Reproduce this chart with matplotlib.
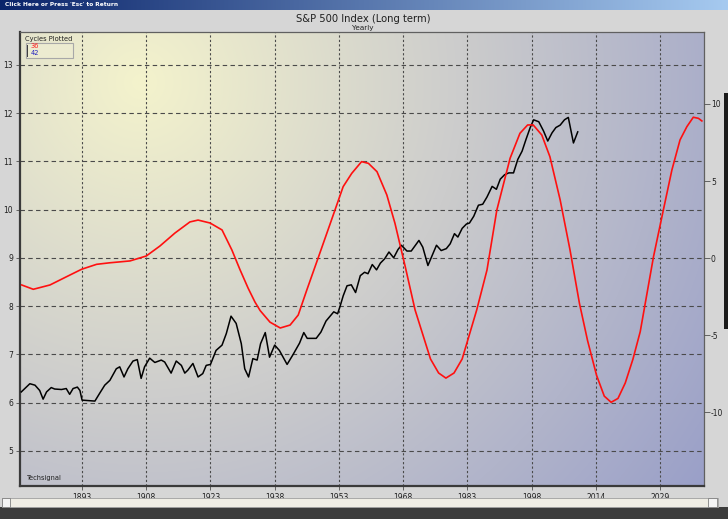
import numpy as np
import matplotlib
matplotlib.use("Agg")
import matplotlib.pyplot as plt
from matplotlib.patches import Rectangle

plt.rcParams['axes.unicode_minus'] = False

# S&P 500 (log scale, left axis)
sp_years = [1878.8, 1880.8, 1882.0, 1883.1, 1883.9, 1884.7, 1885.8, 1886.6, 1888.2, 1889.3,
            1890.1, 1890.9, 1891.9, 1892.5, 1893.0, 1896.0, 1897.1, 1898.3, 1899.5, 1901.0,
            1901.8, 1902.8, 1903.7, 1904.9, 1905.9, 1906.8, 1907.6, 1908.8, 1910.0, 1911.5,
            1912.3, 1913.8, 1915.0, 1916.2, 1917.0, 1917.7, 1918.9, 1920.1, 1921.2, 1922.0,
            1923.0, 1924.3, 1925.7, 1926.7, 1927.8, 1929.0, 1930.2, 1931.0, 1931.9, 1932.9,
            1933.9, 1934.7, 1935.8, 1936.8, 1938.0, 1939.1, 1940.9, 1942.2, 1943.8, 1944.8,
            1945.6, 1947.7, 1948.8, 1950.0, 1951.8, 1952.7, 1953.3, 1954.0, 1954.9, 1955.9,
            1956.9, 1958.0, 1959.0, 1959.8, 1960.8, 1961.8, 1962.7, 1963.7, 1964.7, 1965.8,
            1966.8, 1967.6, 1968.9, 1969.9, 1971.7, 1972.6, 1973.8, 1975.8, 1976.9, 1978.1,
            1979.0, 1980.0, 1980.8, 1981.8, 1982.8, 1983.5, 1984.5, 1985.6, 1986.6, 1987.6,
            1988.8, 1989.8, 1990.7, 1991.7, 1992.7, 1993.8, 1994.8, 1995.8, 1996.7, 1997.7,
            1998.5, 1999.7, 2000.8, 2001.8, 2002.8, 2003.7, 2004.7, 2005.7, 2006.6, 2007.8,
            2008.8]
sp_vals = [6.22, 6.39, 6.36, 6.25, 6.07, 6.22, 6.31, 6.28, 6.27, 6.29,
           6.17, 6.29, 6.32, 6.25, 6.05, 6.03, 6.19, 6.36, 6.46, 6.70,
           6.74, 6.53, 6.70, 6.86, 6.89, 6.50, 6.74, 6.92, 6.83, 6.88,
           6.84, 6.61, 6.86, 6.77, 6.61, 6.67, 6.81, 6.53, 6.60, 6.77,
           6.79, 7.08, 7.19, 7.43, 7.79, 7.64, 7.22, 6.70, 6.53, 6.91,
           6.88, 7.22, 7.45, 6.94, 7.19, 7.08, 6.79, 6.98, 7.23, 7.45,
           7.33, 7.33, 7.46, 7.69, 7.88, 7.84, 8.00, 8.21, 8.42, 8.44,
           8.28, 8.63, 8.70, 8.67, 8.86, 8.75, 8.89, 8.98, 9.12, 9.00,
           9.17, 9.26, 9.14, 9.14, 9.36, 9.22, 8.84, 9.26, 9.15, 9.19,
           9.29, 9.50, 9.43, 9.61, 9.70, 9.72, 9.86, 10.09, 10.11, 10.26,
           10.48, 10.42, 10.63, 10.72, 10.76, 10.76, 11.04, 11.21, 11.45, 11.70,
           11.86, 11.82, 11.63, 11.42, 11.59, 11.70, 11.75, 11.86, 11.91, 11.38,
           11.61]

# composite cycle (36 + 42), right axis
cyc_years = [1878.9, 1881.6, 1885.5, 1889.4, 1892.9, 1896.4, 1899.5, 1901.5, 1904.2, 1908.0,
             1911.2, 1914.7, 1918.2, 1920.1, 1922.9, 1925.7, 1928.0, 1929.9, 1931.8, 1933.4,
             1934.6, 1936.9, 1939.3, 1941.6, 1943.5, 1945.5, 1948.2, 1951.0, 1954.0, 1956.0,
             1958.3, 1959.9, 1961.9, 1964.2, 1966.1, 1968.5, 1970.8, 1974.4, 1976.3, 1978.0,
             1979.9, 1981.8, 1985.2, 1987.6, 1989.9, 1993.0, 1995.3, 1997.1, 1998.4, 2000.4,
             2002.3, 2004.7, 2007.0, 2009.2, 2011.1, 2013.2, 2015.0, 2016.6, 2018.2, 2019.9,
             2021.7, 2023.4, 2026.5, 2028.8, 2030.8, 2032.7, 2034.3, 2035.8, 2037.0, 2037.8]
cyc_vals = [-1.74, -2.02, -1.74, -1.20, -0.72, -0.40, -0.30, -0.25, -0.18, 0.14,
            0.79, 1.63, 2.35, 2.47, 2.28, 1.83, 0.53, -0.75, -1.95, -2.85,
            -3.40, -4.15, -4.53, -4.34, -3.69, -2.07, 0.05, 2.26, 4.64, 5.50,
            6.26, 6.15, 5.61, 4.10, 2.26, -0.55, -3.36, -6.54, -7.45, -7.78,
            -7.45, -6.54, -3.36, -0.77, 3.12, 6.48, 8.10, 8.64, 8.64, 7.99,
            6.58, 3.77, 0.53, -2.93, -5.35, -7.60, -8.95, -9.35, -9.10, -8.10,
            -6.55, -4.77, 0.09, 3.12, 5.72, 7.67, 8.53, 9.14, 9.07, 8.90]

tick_pos = [1893, 1908, 1923, 1938, 1953, 1968, 1983, 1998, 2013, 2028]
tick_labels = ['1893', '1908', '1923', '1938', '1953', '1968', '1983', '1998', '2014', '2029']

W, H = 728, 519
fig = plt.figure(figsize=(W / 100, H / 100), dpi=100)
fig.patch.set_facecolor('#d6d6d6')

# window chrome: title bar, scrollbar, dark edges
bar = np.linspace(0, 1, 256)
c0 = np.array([10, 36, 106]) / 255
c1 = np.array([166, 202, 240]) / 255
bar_rgb = (c0[None, :] * (1 - bar[:, None]) + c1[None, :] * bar[:, None])[None, :, :]
bar_ax = fig.add_axes([0, 1 - 10 / H, 1, 10 / H])
bar_ax.imshow(bar_rgb, aspect='auto', extent=[0, 1, 0, 1])
bar_ax.axis('off')
fig.text(5 / W, 1 - 5 / H, "Click Here or Press 'Esc' to Return", color='white',
         fontsize=4.2, fontweight='bold', va='center', ha='left')
fig.patches.append(Rectangle((0, 0), 1, 12 / H, transform=fig.transFigure,
                             facecolor='#3c3c3c', edgecolor='none', zorder=0))
fig.patches.append(Rectangle((2 / W, 12 / H), 716 / W, 9 / H, transform=fig.transFigure,
                             facecolor='#efede4', edgecolor='#a0a0a0', lw=0.6, zorder=0))
fig.patches.append(Rectangle((2 / W, 12 / H), 8 / W, 9 / H, transform=fig.transFigure,
                             facecolor='#f4f4f4', edgecolor='#808080', lw=0.6, zorder=0))
fig.patches.append(Rectangle((708 / W, 12 / H), 9 / W, 9 / H, transform=fig.transFigure,
                             facecolor='#f4f4f4', edgecolor='#808080', lw=0.6, zorder=0))
fig.patches.append(Rectangle((724 / W, 190 / H), 4 / W, 236 / H, transform=fig.transFigure,
                             facecolor='#1a1a1a', edgecolor='none', zorder=0))

fig.text(363 / W, 1 - 19 / H, 'S&P 500 Index (Long term)', fontsize=7.2, ha='center',
         va='center', color='#202020')
fig.text(363 / W, 1 - 28 / H, 'Yearly', fontsize=5.2, ha='center', va='center',
         color='#202020')

# plot area
ax = fig.add_axes([20 / W, 1 - 486 / H, 684 / W, 454 / H])
yy, xx = np.mgrid[0:454, 0:684]
d = np.hypot(xx - 120, yy - 50) / 720.0
d = np.clip(d, 0, 1)
yel = np.array([244, 243, 204]) / 255
mid = np.array([204, 204, 204]) / 255
blu = np.array([150, 156, 200]) / 255
t1 = np.clip(d / 0.45, 0, 1)[..., None]
t2 = np.clip((d - 0.45) / 0.55, 0, 1)[..., None]
bg = np.where(d[..., None] < 0.45, yel * (1 - t1) + mid * t1, mid * (1 - t2) + blu * t2)
ax.imshow(bg, extent=[0, 1, 0, 1], transform=ax.transAxes, aspect='auto', zorder=0)

ax.plot(sp_years, sp_vals, color='black', lw=1.1, zorder=3)
ax.set_xlim(1878.5, 2038.3)
ax.set_ylim(4.27, 13.68)
ax.set_yticks([5, 6, 7, 8, 9, 10, 11, 12, 13])
ax.set_xticks(tick_pos)
ax.set_xticklabels(tick_labels)
ax.grid(axis='y', color='#4a4a4a', lw=0.8, ls=(0, (4, 3)))
ax.grid(axis='x', color='#4a4a4a', lw=0.8, ls=(0, (2, 2)))
ax.tick_params(axis='both', labelsize=5.5, length=3, width=0.6, color='#505050',
               labelcolor='#202020', pad=2)
for side in ['left', 'bottom']:
    ax.spines[side].set_color('#3a3a3a')
    ax.spines[side].set_linewidth(1.6)
for side in ['top', 'right']:
    ax.spines[side].set_color('#606060')
    ax.spines[side].set_linewidth(0.9)

ax2 = ax.twinx()
ax2.plot(cyc_years, cyc_vals, color='#ff1010', lw=1.2, zorder=4)
ax2.set_ylim(-14.78, 14.67)
ax2.set_yticks([-10, -5, 0, 5, 10])
ax2.tick_params(axis='y', labelsize=5.5, length=4, width=0.6, color='#505050',
                labelcolor='#202020', pad=1)
for s in ax2.spines.values():
    s.set_visible(False)

# cycles legend
fig.text(49 / W, 1 - 39.5 / H, 'Cycles Plotted', fontsize=4.8, ha='center', va='center',
         color='#202020')
fig.patches.append(Rectangle((26 / W, 1 - 58 / H), 47 / W, 15 / H, transform=fig.transFigure,
                             facecolor='#ecebd0', edgecolor='#a8a8a8', lw=0.8, zorder=5))
fig.patches.append(Rectangle((27 / W, 1 - 57 / H), 1.2 / W, 12 / H, transform=fig.transFigure,
                             facecolor='#404040', edgecolor='none', zorder=6))
fig.text(31 / W, 1 - 46.5 / H, '36', fontsize=4.8, color='#ff2020', va='center', zorder=7)
fig.text(31 / W, 1 - 53.5 / H, '42', fontsize=4.8, color='#2020c0', va='center', zorder=7)

fig.text(27 / W, 1 - 478 / H, 'Techsignal', fontsize=4.8, color='#202020', va='center')

fig.savefig('out.png', dpi=100, facecolor=fig.get_facecolor())
